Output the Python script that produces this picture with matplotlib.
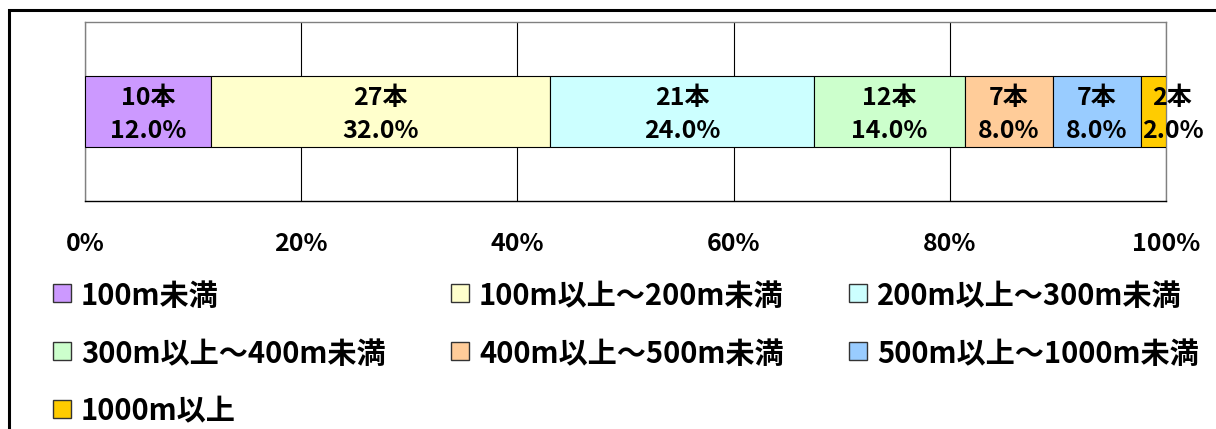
import matplotlib
matplotlib.use('Agg')
import matplotlib.pyplot as plt
from matplotlib.patches import Rectangle

plt.rcParams['font.family'] = ['Noto Sans CJK JP', 'DejaVu Sans']
plt.rcParams['font.weight'] = 'bold'

# データ
categories = ['100m未満', '100m以上～200m未満', '200m以上～300m未満',
              '300m以上～400m未満', '400m以上～500m未満', '500m以上～1000m未満',
              '1000m以上']
counts = [10, 27, 21, 12, 7, 7, 2]
pct_labels = [12.0, 32.0, 24.0, 14.0, 8.0, 8.0, 2.0]
colors = ['#CC99FF', '#FFFFCC', '#CCFFFF', '#CCFFCC', '#FFCC99', '#99CCFF', '#FFCC00']
xticks = [0, 20, 40, 60, 80, 100]

W, H = 1216, 429
fig = plt.figure(figsize=(W / 100, H / 100), dpi=100)

# 外枠（右・下は画像外）
fig.add_artist(Rectangle((8.5 / W, -0.5), 2.0, 1.5 - 10 / H, transform=fig.transFigure,
                         fill=False, edgecolor='black', linewidth=2.2))

ax = fig.add_axes([85 / W, 1 - 201 / H, (1166 - 85) / W, (201 - 22) / H])

total = sum(counts)
left = 0.0
for c, p, col in zip(counts, pct_labels, colors):
    w = c / total * 100
    ax.barh(0, w, left=left, height=0.402, color=col, edgecolor='black', linewidth=0.8, zorder=3)
    cx = left + w / 2
    dx = 19 if w < 5 else 0
    ax.annotate('{}本'.format(c), (cx, 0), xytext=(dx, 13.5), textcoords='offset pixels',
                ha='center', va='center', fontsize=18, fontweight='bold', zorder=4)
    ax.annotate('{:.1f}%'.format(p), (cx, 0), xytext=(dx, -20), textcoords='offset pixels',
                ha='center', va='center', fontsize=18, fontweight='bold', zorder=4)
    left += w

ax.set_xlim(0, 100)
ax.set_ylim(-0.5, 0.5)
ax.set_yticks([])
ax.set_xticks(xticks)
ax.set_xticklabels(['{}%'.format(t) for t in xticks], fontsize=18, fontweight='bold')
ax.tick_params(axis='x', length=0, pad=22)
ax.grid(axis='x', color='black', linewidth=0.8, zorder=1)
for s in ['top', 'right', 'left']:
    ax.spines[s].set_color('#808080')
    ax.spines[s].set_linewidth(1.0)
ax.spines['bottom'].set_color('black')
ax.spines['bottom'].set_linewidth(1.0)

# 凡例（3列）
for i, (lab, col) in enumerate(zip(categories, colors)):
    row, cl = i // 3, i % 3
    x0 = 53 + cl * 398
    yc = 292.5 + row * 58
    fig.add_artist(Rectangle((x0 / W, 1 - (yc + 9) / H), 18 / W, 18 / H,
                             transform=fig.transFigure, facecolor=col,
                             edgecolor='#333333', linewidth=1.0))
    fig.text((x0 + 28) / W, 1 - yc / H, lab, ha='left', va='center_baseline',
             fontsize=21, fontweight='bold')

fig.savefig('out.png', dpi=100)
